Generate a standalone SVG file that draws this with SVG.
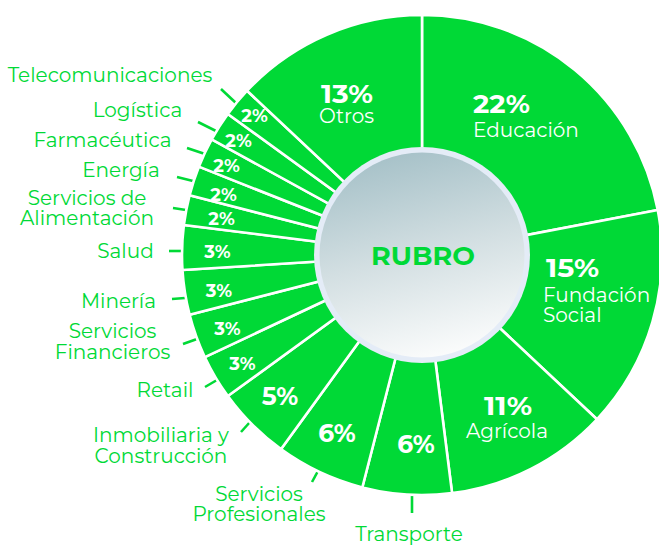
<svg xmlns="http://www.w3.org/2000/svg" width="659" height="545" viewBox="0 0 659 545">
<defs>
<linearGradient id="hub" x1="0.35" y1="0" x2="0.6" y2="1">
<stop offset="0" stop-color="#a6c1c8"/>
<stop offset="0.5" stop-color="#d3dfe2"/>
<stop offset="1" stop-color="#fbfcfc"/>
</linearGradient>
<style>
.w{fill:#00d936;stroke:#ffffff;stroke-width:2.6;stroke-linejoin:round}
.lbl{font-family:Montserrat,"DejaVu Sans",sans-serif;font-size:20px;fill:#00d936;text-anchor:middle}
.in{font-family:Montserrat,"DejaVu Sans",sans-serif;font-size:20px;fill:#ffffff}
.pb{font-family:Montserrat,"DejaVu Sans",sans-serif;font-weight:bold;font-size:25px;fill:#ffffff}
.ps{font-family:Montserrat,"DejaVu Sans",sans-serif;font-weight:bold;font-size:18px;fill:#ffffff;text-anchor:middle}
.tk{stroke:#00d936;stroke-width:2.6;fill:none}
</style>
</defs>
<rect width="659" height="545" fill="#ffffff"/>

<g id="connectors">
<line class="tk" x1="221" y1="89" x2="237" y2="104"/>
<line class="tk" x1="198" y1="122" x2="216" y2="131"/>
<line class="tk" x1="187" y1="148" x2="205" y2="154"/>
<line class="tk" x1="177" y1="177" x2="193" y2="181"/>
<line class="tk" x1="173" y1="208" x2="186" y2="210"/>
<line class="tk" x1="169" y1="251" x2="183" y2="251"/>
<line class="tk" x1="172" y1="299" x2="185" y2="298"/>
<line class="tk" x1="183" y1="344" x2="197" y2="339"/>
<line class="tk" x1="205" y1="387" x2="217" y2="380"/>
<line class="tk" x1="241" y1="432" x2="250" y2="422"/>
<line class="tk" x1="312" y1="482" x2="318" y2="471"/>
<line class="tk" x1="412" y1="496" x2="412" y2="513"/>
</g>

<g id="educacion">
<path class="w" d="M422,255 L422,15 A240,240 0 0,1 657.75,210.03 Z"/>
<text class="pb" x="473" y="113" textLength="57" lengthAdjust="spacingAndGlyphs">22%</text>
<text class="in" x="473" y="137">Educación</text>
</g>
<g id="fundacion-social">
<path class="w" d="M422,255 L657.75,210.03 A240,240 0 0,1 596.95,419.29 Z"/>
<text class="pb" x="546" y="277" textLength="53" lengthAdjust="spacingAndGlyphs">15%</text>
<text class="in" x="543" y="302">Fundación</text>
<text class="in" x="543" y="322">Social</text>
</g>
<g id="agricola">
<path class="w" d="M422,255 L596.95,419.29 A240,240 0 0,1 452.08,493.11 Z"/>
<text class="pb" x="508" y="415" text-anchor="middle" textLength="48" lengthAdjust="spacingAndGlyphs">11%</text>
<text class="in" x="507" y="438" text-anchor="middle">Agrícola</text>
</g>
<g id="transporte">
<path class="w" d="M422,255 L452.08,493.11 A240,240 0 0,1 362.31,487.46 Z"/>
<text class="pb" x="416" y="453" text-anchor="middle">6%</text>
<text class="lbl" x="409" y="541">Transporte</text>
</g>
<g id="servicios-profesionales">
<path class="w" d="M422,255 L362.31,487.46 A240,240 0 0,1 280.93,449.16 Z"/>
<text class="pb" x="337" y="442" text-anchor="middle">6%</text>
<text class="lbl" x="259" y="501">Servicios</text>
<text class="lbl" x="259" y="521">Profesionales</text>
</g>
<g id="inmobiliaria">
<path class="w" d="M422,255 L280.93,449.16 A240,240 0 0,1 227.84,396.07 Z"/>
<text class="pb" x="280" y="405" text-anchor="middle">5%</text>
<text class="lbl" x="161" y="442">Inmobiliaria y</text>
<text class="lbl" x="161" y="463">Construcción</text>
</g>
<g id="retail">
<path class="w" d="M422,255 L227.84,396.07 A240,240 0 0,1 204.84,357.19 Z"/>
<text class="ps" x="242.5" y="370">3%</text>
<text class="lbl" x="165" y="397">Retail</text>
</g>
<g id="servicios-financieros">
<path class="w" d="M422,255 L204.84,357.19 A240,240 0 0,1 189.54,314.69 Z"/>
<text class="ps" x="227.5" y="335">3%</text>
<text class="lbl" x="112.5" y="338">Servicios</text>
<text class="lbl" x="112.5" y="359">Financieros</text>
</g>
<g id="mineria">
<path class="w" d="M422,255 L189.54,314.69 A240,240 0 0,1 182.47,270.07 Z"/>
<text class="ps" x="219" y="297">3%</text>
<text class="lbl" x="118.5" y="308">Minería</text>
</g>
<g id="salud">
<path class="w" d="M422,255 L182.47,270.07 A240,240 0 0,1 183.89,224.92 Z"/>
<text class="ps" x="217.5" y="258">3%</text>
<text class="lbl" x="125.5" y="258">Salud</text>
</g>
<g id="alimentacion">
<path class="w" d="M422,255 L183.89,224.92 A240,240 0 0,1 189.54,195.31 Z"/>
<text class="ps" x="221.5" y="225">2%</text>
<text class="lbl" x="87" y="205">Servicios de</text>
<text class="lbl" x="87" y="225">Alimentación</text>
</g>
<g id="energia">
<path class="w" d="M422,255 L189.54,195.31 A240,240 0 0,1 198.85,166.65 Z"/>
<text class="ps" x="223.5" y="201">2%</text>
<text class="lbl" x="121" y="177">Energía</text>
</g>
<g id="farmaceutica">
<path class="w" d="M422,255 L198.85,166.65 A240,240 0 0,1 211.69,139.38 Z"/>
<text class="ps" x="226.5" y="172">2%</text>
<text class="lbl" x="102.5" y="147">Farmacéutica</text>
</g>
<g id="logistica">
<path class="w" d="M422,255 L211.69,139.38 A240,240 0 0,1 227.84,113.93 Z"/>
<text class="ps" x="238.5" y="147">2%</text>
<text class="lbl" x="137.5" y="117">Logística</text>
</g>
<g id="telecomunicaciones">
<path class="w" d="M422,255 L227.84,113.93 A240,240 0 0,1 247.05,90.71 Z"/>
<text class="ps" x="254.5" y="122">2%</text>
<text class="lbl" x="110" y="82">Telecomunicaciones</text>
</g>
<g id="otros">
<path class="w" d="M422,255 L247.05,90.71 A240,240 0 0,1 422,15 Z"/>
<text class="pb" x="321" y="103" textLength="52" lengthAdjust="spacingAndGlyphs">13%</text>
<text class="in" x="319" y="123">Otros</text>
</g>

<g id="rubro">
<circle cx="422" cy="255" r="108" fill="#e4ecf7"/>
<circle cx="422" cy="255" r="102.5" fill="url(#hub)"/>
<text x="423" y="265" font-family="Montserrat,'DejaVu Sans',sans-serif" font-weight="bold" font-size="26" fill="#00d936" text-anchor="middle" textLength="104" lengthAdjust="spacingAndGlyphs">RUBRO</text>
</g>
</svg>
